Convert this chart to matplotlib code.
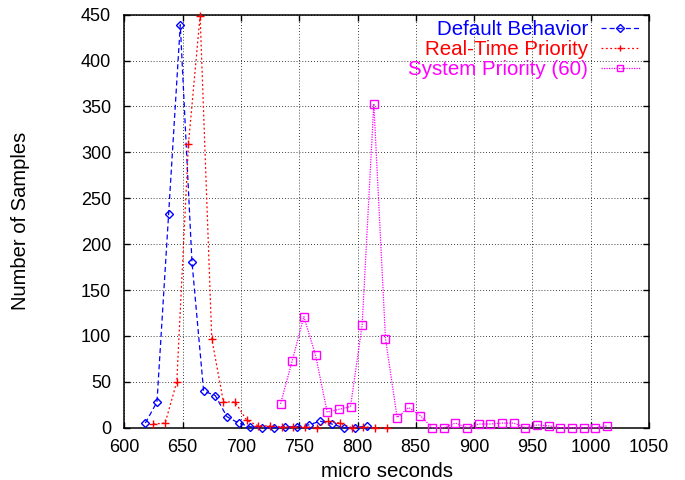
import numpy as np
import matplotlib
matplotlib.use('Agg')
import matplotlib.pyplot as plt

# --- Data ---
default_x = [618, 628, 638, 648, 658, 668, 678, 688, 698, 708,
             718, 728, 738, 748, 758, 768, 778, 788, 798, 808]
default_y = [5, 28, 233, 439, 181, 40, 35, 12, 5, 1,
             0, 0, 1, 1, 3, 7, 4, 0, 0, 2]

realtime_x = [625, 635, 645, 655, 665, 675, 685, 695, 705, 715, 725,
              735, 745, 755, 765, 775, 785, 795, 805, 815, 825]
realtime_y = [4, 5, 50, 309, 449, 97, 28, 28, 8, 2, 2,
              1, 1, 1, 0, 7, 5, 0, 1, 0, 0]

system_x = [734, 744, 754, 764, 774, 784, 794, 804, 814, 824,
            834, 844, 854, 864, 874, 884, 894, 904, 914, 924,
            934, 944, 954, 964, 974, 984, 994, 1004, 1014]
system_y = [26, 73, 121, 79, 17, 20, 23, 112, 353, 97,
            11, 22, 13, 0, 0, 5, 0, 4, 4, 5,
            5, 0, 3, 2, 0, 0, 0, 0, 2]

labels = ['Default Behavior', 'Real-Time Priority', 'System Priority (60)']
x_ticks = np.arange(600, 1051, 50)
y_ticks = np.arange(0, 451, 50)

plt.rcParams['font.family'] = ['Liberation Sans', 'DejaVu Sans']
plt.rcParams['font.size'] = 13

fig = plt.figure(figsize=(6.85, 4.8), dpi=100)
ax = fig.add_axes([0.1815, 0.109, 0.7659, 0.8604])

ax.plot(default_x, default_y, color='#0000ff', lw=0.9, dashes=(4, 2.5),
        marker='D', markersize=4, mfc='none', mew=1.0, clip_on=False,
        label=labels[0], zorder=3)
ax.plot(realtime_x, realtime_y, color='#ff0000', lw=0.9, dashes=(1.5, 2),
        marker='+', markersize=6, mew=1.0, clip_on=False,
        label=labels[1], zorder=3)
ax.plot(system_x, system_y, color='#ff00ff', lw=0.9, dashes=(1, 1),
        marker='s', markersize=5.5, mfc='none', mew=1.0, clip_on=False,
        label=labels[2], zorder=3)

ax.set_xlim(600, 1050)
ax.set_ylim(0, 450)
ax.set_xticks(x_ticks)
ax.set_yticks(y_ticks)

ax.grid(True, color='black', linestyle=(0, (1, 2.5)), linewidth=0.6)
ax.set_axisbelow(True)

ax.tick_params(direction='in', length=4.5, width=1, top=True, right=True,
               labelsize=13)
ax.tick_params(axis='x', pad=8)
ax.tick_params(axis='y', pad=9.5)
for s in ax.spines.values():
    s.set_linewidth(1.1)

ax.set_xlabel('micro seconds', fontsize=14.8)
ax.set_ylabel('Number of Samples', fontsize=14.5)
ax.xaxis.set_label_coords(0.5, -0.083)
ax.yaxis.set_label_coords(-0.18, 0.5)

leg = ax.legend(loc='upper right', bbox_to_anchor=(0.9828, 0.9862),
                frameon=False, markerfirst=False, numpoints=1,
                handlelength=1.9, handletextpad=0.62, labelspacing=0.05,
                borderpad=0, borderaxespad=0, fontsize=14.8)
for txt, c in zip(leg.get_texts(), ['#0000ff', '#ff0000', '#ff00ff']):
    txt.set_color(c)
for h in leg.legend_handles:
    h.set_markersize(4)

fig.savefig('out.png', dpi=100)
